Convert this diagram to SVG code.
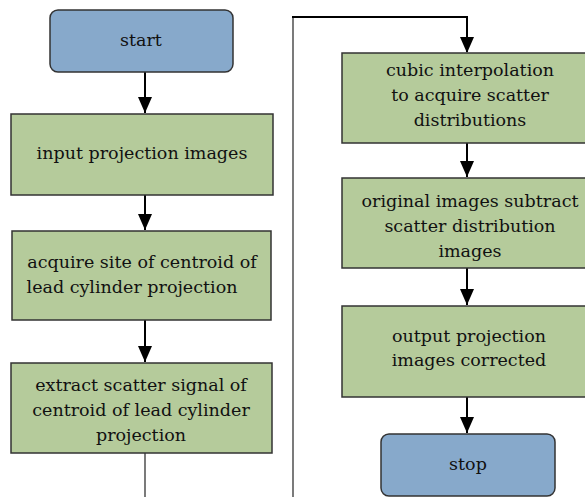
<svg xmlns="http://www.w3.org/2000/svg" width="585" height="497" viewBox="0 0 585 497">
<style>
.proc{fill:#b5cb9b;stroke:#333;stroke-width:1.5}
.term{fill:#87a9cb;stroke:#333;stroke-width:1.5}
.t{fill:#111;text-anchor:middle}
.c{fill:none;stroke:#000;stroke-width:2}
.thin{fill:none;stroke:#333;stroke-width:1.3}
</style>
<rect width="585" height="497" fill="#fff"/>
<g id="connectors">
<path class="c" d="M145,72 V113"/>
<path d="M138,97 L152,97 L145,113 Z" fill="#000"/>
<path class="c" d="M145,195 V230"/>
<path d="M138,214 L152,214 L145,230 Z" fill="#000"/>
<path class="c" d="M145,320 V362"/>
<path d="M138,346 L152,346 L145,362 Z" fill="#000"/>
<path class="thin" d="M145,453 V497"/>
<path class="thin" d="M293,497 V17"/>
<path class="c" d="M292,17 H467 V52"/>
<path d="M460,37 L474,37 L467,53 Z" fill="#000"/>
<path class="c" d="M467,143 V177"/>
<path d="M460,161 L474,161 L467,177 Z" fill="#000"/>
<path class="c" d="M467,268 V305"/>
<path d="M460,289 L474,289 L467,305 Z" fill="#000"/>
<path class="c" d="M467,397 V433"/>
<path d="M460,417 L474,417 L467,433 Z" fill="#000"/>
</g>
<g font-family="DejaVu Serif, Liberation Serif, serif" font-size="17.5">
<g id="start">
<rect class="term" x="50" y="10" width="183" height="62" rx="8"/>
<text class="t" x="141" y="46">start</text>
</g>
<g id="input">
<rect class="proc" x="11" y="114" width="262" height="81"/>
<text class="t" x="142" y="159">input projection images</text>
</g>
<g id="acquire">
<rect class="proc" x="12" y="231" width="259" height="89"/>
<text class="t" x="142" y="268">acquire site of centroid of</text>
<text class="t" x="132" y="293">lead cylinder projection</text>
</g>
<g id="extract">
<rect class="proc" x="11" y="363" width="261" height="90"/>
<text class="t" x="141" y="391">extract scatter signal of</text>
<text class="t" x="141" y="416">centroid of lead cylinder</text>
<text class="t" x="141" y="441">projection</text>
</g>
<g id="cubic">
<rect class="proc" x="342" y="53" width="250" height="90"/>
<text class="t" x="470" y="76">cubic interpolation</text>
<text class="t" x="470" y="101">to acquire scatter</text>
<text class="t" x="470" y="126">distributions</text>
</g>
<g id="subtract">
<rect class="proc" x="342" y="178" width="250" height="90"/>
<text class="t" x="470" y="207">original images subtract</text>
<text class="t" x="470" y="232">scatter distribution</text>
<text class="t" x="470" y="257">images</text>
</g>
<g id="output">
<rect class="proc" x="342" y="306" width="250" height="91"/>
<text class="t" x="469" y="342">output projection</text>
<text class="t" x="469" y="366">images corrected</text>
</g>
<g id="stop">
<rect class="term" x="381" y="434" width="174" height="62" rx="8"/>
<text class="t" x="468" y="470">stop</text>
</g>
</g>
</svg>
